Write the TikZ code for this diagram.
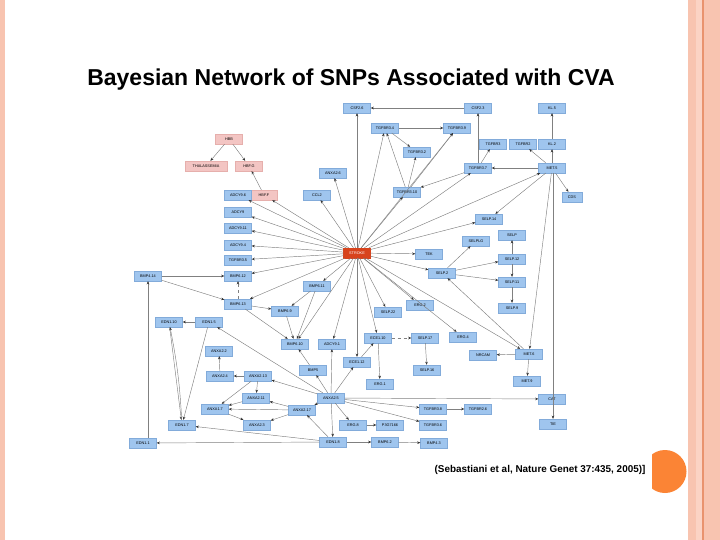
\documentclass[tikz,border=0pt]{standalone}
\usepackage{fontspec}
\setmainfont{Liberation Sans}
\usetikzlibrary{arrows.meta}
\definecolor{nblue}{HTML}{9FC5EE}
\definecolor{nbord}{HTML}{82ABDA}
\definecolor{npink}{HTML}{F3C5C3}
\definecolor{npinkb}{HTML}{E6AFAC}
\definecolor{nred}{HTML}{D8431C}
\definecolor{egray}{HTML}{808080}
\definecolor{bpink}{HTML}{F8C4B0}
\definecolor{bpinkl}{HTML}{FBD3C4}
\definecolor{bline}{HTML}{E9936E}
\definecolor{dot}{HTML}{FB8435}
\begin{document}
\begin{tikzpicture}[x=1pt,y=-1pt,
  nd/.style={draw=nbord, fill=nblue, line width=0.3pt, minimum width=27pt, minimum height=10pt, inner sep=0.5pt, font=\fontsize{3.8}{4}\selectfont},
  pk/.style={nd, fill=npink, draw=npinkb},
  st/.style={nd, fill=nred, draw=nred, text=white},
  e/.style={draw=egray, line width=0.45pt, -{Stealth[length=3.2pt,width=2.6pt,color=black!80]}},
  ed/.style={e, dashed}
]
\useasboundingbox (0,0) rectangle (720,540);
% slide decoration
\fill[bpink] (0,0) rectangle (5,540);
\fill[bpink] (688,0) rectangle (696,540);
\fill[bpinkl] (696,0) rectangle (702,540);
\fill[bline] (702,0) rectangle (703.5,540);
\fill[bpink] (703.5,0) rectangle (720,540);
\begin{scope}
\clip (652,440) rectangle (700,500);
\fill[dot] (665,471.5) circle (21.5);
\end{scope}
\node[font=\bfseries\fontsize{23}{25}\selectfont] (title) at (351,80) {Bayesian Network of SNPs Associated with CVA};
\node[font=\bfseries\fontsize{9.9}{11}\selectfont] (cite) at (540,470) {(Sebastiani et al, Nature Genet 37:435, 2005)]};
% nodes
\node[pk] (hbb) at (229,139) {HBB};
\node[pk, minimum width=42pt] (thal) at (206,166) {THALASSEMIA};
\node[pk] (hbfg) at (249,166) {HBF.G};
\node[pk] (hbff) at (264,195) {HBF.F};
\node[nd] (adcy96) at (238,195) {ADCY9.6};
\node[nd] (adcy9) at (238,212) {ADCY9};
\node[nd] (adcy911) at (238,228) {ADCY9.11};
\node[nd] (adcy94) at (238,245) {ADCY9.4};
\node[nd] (tgfbr35) at (238,260) {TGFBR3.5};
\node[nd] (bmp612) at (238,276) {BMP6.12};
\node[nd] (bmp613) at (238,304) {BMP6.13};
\node[nd] (bmp414) at (148,276) {BMP4.14};
\node[nd] (bmp69) at (285,311) {BMP6.9};
\node[nd] (bmp611) at (317,286) {BMP6.11};
\node[nd] (ccl2) at (317,195) {CCL2};
\node[nd] (anxa26) at (333,173) {ANXA2.6};
\node[nd] (csf26) at (357,108) {CSF2.6};
\node[nd] (tgfbr34) at (385,128) {TGFBR3.4};
\node[nd] (tgfbr32) at (417,152) {TGFBR3.2};
\node[nd] (tgfbr39) at (457,128) {TGFBR3.9};
\node[nd] (csf23) at (478,108) {CSF2.3};
\node[nd] (tgfbr310) at (407,192) {TGFBR3.10};
\node[nd] (tgfbr37) at (478,168) {TGFBR3.7};
\node[nd] (tgfbr3) at (493,144) {TGFBR3};
\node[nd] (tgfbr2) at (523,144) {TGFBR2};
\node[nd] (kl2) at (552,144) {KL.2};
\node[nd] (kl5) at (552,108) {KL.5};
\node[nd] (met5) at (552,168) {MET.5};
\node[nd, minimum width=20pt] (cds) at (572,197) {CDS};
\node[nd] (selp14) at (489,219) {SELP.14};
\node[nd] (selp) at (512,235) {SELP};
\node[nd] (selplg) at (476,241) {SELPLG};
\node[nd] (tek) at (429,254) {TEK};
\node[st] (stroke) at (357,253) {STROKE};
\node[nd] (selp12) at (512,259) {SELP.12};
\node[nd] (selp2) at (442,273) {SELP.2};
\node[nd] (selp11) at (512,282) {SELP.11};
\node[nd] (selp9) at (512,308) {SELP.9};
\node[nd] (selp22) at (388,312) {SELP.22};
\node[nd] (erg2) at (420,305) {ERG.2};
\node[nd] (ece110) at (378,338) {ECE1.10};
\node[nd] (selp17) at (425,338) {SELP.17};
\node[nd] (erg4) at (463,337) {ERG.4};
\node[nd] (nrcam) at (483,355) {NRCAM};
\node[nd] (met6) at (529,354) {MET.6};
\node[nd] (met9) at (527,381) {MET.9};
\node[nd] (cat) at (552,399) {CAT};
\node[nd] (tie) at (553,424) {TIE};
\node[nd] (selp16) at (427,370) {SELP.16};
\node[nd] (ece112) at (357,362) {ECE1.12};
\node[nd] (erg1) at (380,384) {ERG.1};
\node[nd] (adcy91) at (332,344) {ADCY9.1};
\node[nd] (bmp610) at (295,344) {BMP6.10};
\node[nd] (bmp5) at (313,370) {BMP5};
\node[nd] (anxa25) at (331,398) {ANXA2.5};
\node[nd] (anxa217) at (302,410) {ANXA2.17};
\node[nd] (anxa213) at (258,376) {ANXA2.13};
\node[nd] (anxa24) at (220,376) {ANXA2.4};
\node[nd] (anxa22) at (219,351) {ANXA2.2};
\node[nd] (anxa211) at (256,398) {ANXA2.11};
\node[nd] (anxa17) at (215,409) {ANXA1.7};
\node[nd] (anxa23) at (257,425) {ANXA2.3};
\node[nd] (edn17) at (182,425) {EDN1.7};
\node[nd] (edn110) at (169,322) {EDN1.10};
\node[nd] (edn15) at (209,322) {EDN1.5};
\node[nd] (edn11) at (143,443) {EDN1.1};
\node[nd] (edn18) at (333,442) {EDN1.8};
\node[nd] (erg8) at (353,425) {ERG.8};
\node[nd] (p3g) at (390,425) {P3G7166};
\node[nd] (tgfbr38) at (433,409) {TGFBR3.8};
\node[nd] (tgfbr26) at (478,409) {TGFBR2.6};
\node[nd] (tgfbr36) at (433,425) {TGFBR3.6};
\node[nd] (bmp62) at (385,442) {BMP6.2};
\node[nd] (bmp43) at (434,443) {BMP4.3};
% edges
\foreach \t in {hbff,adcy96,adcy9,adcy911,adcy94,tgfbr35,bmp612,bmp613,bmp611,ccl2,anxa26,csf26,tgfbr34,tgfbr39,tgfbr310,tgfbr37,met5,selp14,tek,selp2,selp22,erg2,erg4,met6,ece110,ece112,adcy91,bmp610}
  \draw[e] (stroke) -- (\t);
\draw[e] (hbb) -- (thal);
\draw[e] (hbb) -- (hbfg);
\draw[e] (hbff) -- (hbfg);
\draw[e] (csf23) -- (csf26);
\draw[e] (tgfbr34) -- (tgfbr39);
\draw[e] (tgfbr34) -- (tgfbr32);
\draw[e] (tgfbr310) -- (tgfbr34);
\draw[e] (tgfbr310) -- (tgfbr39);
\draw[e] (tgfbr310) -- (tgfbr32);
\draw[e] (tgfbr37) -- (csf23);
\draw[e] (tgfbr37) -- (tgfbr3);
\draw[e] (tgfbr37) -- (tgfbr310);
\draw[e] (met5) -- (tgfbr37);
\draw[e] (met5) -- (tgfbr2);
\draw[e] (met5) -- (kl2);
\draw[e] (kl2) -- (kl5);
\draw[e] (met5) -- (cds);
\draw[e] (met5) -- (selp14);
\draw[e] (met5) -- (met6);
\draw[e] (met5.south) ++(1,0) coordinate (m5s) (m5s) -- (tie);
\draw[e] (selp2) -- (selplg);
\draw[e] (selp2) -- (selp12);
\draw[e] (selp2) -- (selp11);
\draw[e] (selp12) -- (selp);
\draw[e] (selp12) -- (selp11);
\draw[e] (selp11) -- (selp9);
\draw[e] (met6) -- (selp2);
\draw[e] (met6) -- (nrcam);
\draw[e] (met6) -- (met9);
\draw[e] (bmp414) -- (bmp612);
\draw[e] (bmp414) -- (bmp613);
\draw[ed] (bmp613) -- (bmp612);
\draw[e] (bmp613) -- (bmp69);
\draw[e] (bmp611) -- (bmp69);
\draw[e] (bmp613) -- (bmp610);
\draw[e] (bmp69) -- (bmp610);
\draw[e] (bmp611) -- (bmp610);
\draw[e] (edn11.north -| bmp414) -- (bmp414);
\draw[e] (edn15) -- (edn110);
\draw[e] (edn110) -- (edn17);
\draw[e] (edn17) to[bend right=4] (edn110);
\draw[e] (edn15) -- (edn17);
\draw[e] (anxa25) -- (edn15);
\draw[e] (edn18) -- (edn17);
\draw[e] (edn18) -- (edn11);
\draw[e] (anxa24) -- (anxa22);
\draw[e] (anxa213) -- (anxa24);
\draw[e] (anxa213) -- (anxa211);
\draw[e] (anxa213) -- (anxa17);
\draw[e] (anxa211) -- (anxa17);
\draw[e] (anxa17) -- (anxa23);
\draw[e] (anxa25) -- (anxa213);
\draw[e] (anxa217) -- (anxa211);
\draw[e] (anxa217) -- (anxa17);
\draw[e] (anxa217) -- (anxa23);
\draw[e] (anxa25) -- (anxa217);
\draw[e] (edn18) -- (anxa217);
\draw[e] (anxa25) -- (bmp5);
\draw[e] (bmp5) -- (bmp610);
\draw[e] (anxa25) -- (ece112);
\draw[e] (anxa25) -- (adcy91);
\draw[e] (anxa25) -- (edn18);
\draw[e] (anxa25) -- (erg8);
\draw[e] (erg8) -- (p3g);
\draw[e] (edn18) -- (bmp62);
\draw[e] (bmp62) -- (bmp43);
\draw[e] (anxa25) -- (tgfbr38);
\draw[e] (anxa25) -- (tgfbr36);
\draw[e] (anxa25) -- (cat);
\draw[e] (tgfbr38) -- (tgfbr26);
\draw[e] (ece112) -- (ece110);
\draw[e] (ece110) -- (erg1);
\draw[ed] (ece110) -- (selp17);
\draw[e] (selp17) -- (selp16);
\end{tikzpicture}
\end{document}
